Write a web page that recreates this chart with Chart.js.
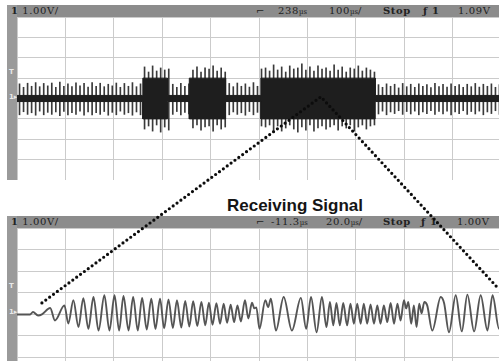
<!DOCTYPE html>
<html>
<head>
<meta charset="utf-8">
<script src="https://cdn.jsdelivr.net/npm/chart.js@4.4.0/dist/chart.umd.min.js"></script>
<style>
html,body{margin:0;padding:0;background:#fff;width:499px;height:361px;overflow:hidden;position:relative}
.bar{position:absolute;left:7px;width:492px;height:12px;background:#8c8c8c}
.side{position:absolute;left:7px;width:10px;background:#9a9a9a}
.hd{position:absolute;font:10px "DejaVu Serif",serif;letter-spacing:0.6px;color:#222;white-space:nowrap;line-height:12px}
.hd b{font-weight:bold}
.hd small{font-size:7px;letter-spacing:0}
.mk{position:absolute;left:9px;font:bold 7px "DejaVu Sans",sans-serif;color:#e8e8e8}
canvas{position:absolute}
#title{position:absolute;left:200px;width:190px;top:196px;text-align:center;font:bold 17px "Liberation Sans",Arial,sans-serif;color:#151515}
</style>
</head>
<body>
<!-- top scope frame -->
<div class="bar" style="top:5px"></div>
<div class="side" style="top:5px;height:175px"></div>
<div class="hd" style="top:5px;left:11px"><b>1</b> 1.00V/</div>
<div class="hd" style="top:5px;left:256px">⌐</div>
<div class="hd" style="top:5px;left:278px">238<small>µs</small></div>
<div class="hd" style="top:5px;left:329px">100<small>µs</small>/</div>
<div class="hd" style="top:5px;left:383px"><b>Stop</b></div>
<div class="hd" style="top:5px;left:423px"><b>ƒ 1</b></div>
<div class="hd" style="top:5px;left:458px">1.09V</div>
<div class="mk" style="top:68px">T</div>
<div class="mk" style="top:93px">1▸</div>
<canvas id="topChart" width="484" height="163" style="left:17px;top:17px"></canvas>

<div id="title">Receiving Signal</div>

<!-- bottom scope frame -->
<div class="bar" style="top:216px"></div>
<div class="side" style="top:216px;height:145px"></div>
<div class="hd" style="top:216px;left:11px"><b>1</b> 1.00V/</div>
<div class="hd" style="top:216px;left:256px">⌐</div>
<div class="hd" style="top:216px;left:271px">-11.3<small>µs</small></div>
<div class="hd" style="top:216px;left:326px">20.0<small>µs</small>/</div>
<div class="hd" style="top:216px;left:383px"><b>Stop</b></div>
<div class="hd" style="top:216px;left:421px"><b>ƒ 1</b></div>
<div class="hd" style="top:216px;left:457px">1.00V</div>
<div class="mk" style="top:282px">T</div>
<div class="mk" style="top:308px">1▸</div>
<canvas id="rxChart" width="484" height="172" style="left:17px;top:228px"></canvas>

<canvas id="zoomChart" width="499" height="361" style="left:0;top:0;pointer-events:none"></canvas>

<script>
// top trace (100us/div, 1V/div): burst windows in us, amplitudes in V
const burstStart = [260, 356, 504];
const burstEnd   = [311, 431, 740];
const burstAmp   = [1.0, 1.0, 1.0];
const coreAmp    = 0.15;

// spike tips per sample slot (120 slots over the 1000us screen)
const spikeHi = [
  0.72,0.55,0.75,0.6,0.78,0.58,0.74,0.62,0.76,0.55,0.8,0.6,0.72,0.58,0.77,0.62,0.74,0.56,0.78,0.6,0.75,0.58,0.7,0.62,0.76,0.55,0.74,0.6,0.78,0.58,0.72,
  1.55,1.3,1.6,1.35,1.5,1.4,1.45,
  0.7,0.55,0.75,0.6,0.72,
  1.4,1.55,1.3,1.5,1.45,1.6,1.35,1.5,1.3,
  0.74,0.58,0.76,0.6,0.72,0.56,0.78,0.6,
  1.45,1.5,1.35,1.65,1.4,1.55,1.3,1.6,1.45,1.5,1.7,1.4,1.55,1.35,1.6,1.45,1.5,1.35,1.65,1.4,1.55,1.3,1.5,1.45,1.6,1.35,1.5,1.4,1.3,
  0.68,0.55,0.72,0.6,0.7,0.52,0.74,0.58,0.7,0.55,0.72,0.6,0.68,0.54,0.74,0.58,0.7,0.56,0.72,0.6,0.68,0.55,0.7,0.58,0.74,0.56,0.7,0.6,0.72,0.55,0.68
];
const spikeLo = [
  -0.8,-0.65,-0.78,-0.7,-0.82,-0.62,-0.8,-0.68,-0.78,-0.66,-0.84,-0.64,-0.8,-0.7,-0.78,-0.62,-0.82,-0.66,-0.8,-0.7,-0.78,-0.64,-0.82,-0.68,-0.8,-0.62,-0.78,-0.7,-0.82,-0.66,-0.8,
  -1.5,-1.35,-1.6,-1.3,-1.65,-1.4,-1.55,
  -0.78,-0.64,-0.8,-0.68,-0.76,
  -1.45,-1.3,-1.55,-1.4,-1.35,-1.6,-1.3,-1.5,-1.4,
  -0.8,-0.66,-0.78,-0.7,-0.82,-0.64,-0.8,-0.68,
  -1.35,-1.4,-1.3,-1.55,-1.35,-1.6,-1.45,-1.3,-1.5,-1.65,-1.4,-1.55,-1.3,-1.6,-1.45,-1.35,-1.5,-1.4,-1.3,-1.55,-1.35,-1.45,-1.3,-1.6,-1.4,-1.3,-1.5,-1.35,-1.3,
  -0.76,-0.62,-0.8,-0.66,-0.74,-0.6,-0.78,-0.64,-0.76,-0.62,-0.8,-0.66,-0.74,-0.6,-0.78,-0.64,-0.76,-0.62,-0.8,-0.66,-0.74,-0.6,-0.78,-0.64,-0.76,-0.62,-0.8,-0.66,-0.74,-0.6,-0.78
];

// bottom trace (20us/div, 1V/div): turning points of the received waveform
const rxTime = [
  0,5.4,6.6,8.7,10.3,13.7,15.7,19.6,21.2,23.3,25.4,27.4,29.5,31.6,33.7,36.1,38.2,40.3,42.2,44.0,
  46.1,48.0,49.9,51.7,53.6,55.5,57.2,59.1,60.8,62.6,64.4,66.1,67.9,69.5,71.2,72.8,74.5,76.2,77.8,79.3,
  80.8,82.4,83.9,85.4,86.8,88.3,89.7,91.1,92.5,94.2,95.6,97.1,98.1,98.9,100.2,102.6,103.8,104.9,107.0,110.2,
  113.6,117.3,119.5,121.5,123.8,126.0,127.9,129.3,130.7,132.0,133.4,134.8,136.4,137.8,139.2,140.6,142.0,143.3,144.7,146.1,
  147.5,148.9,150.2,151.6,153.0,154.4,155.8,157.2,158.5,159.9,160.8,161.7,162.9,164.0,165.1,166.2,167.2,168.3,169.5,171.6,
  175.1,176.5,178.5,181.3,183.8,186.1,188.9,191.6,194.4,196.5,199.2,200.0
];
const rxVolt = [
  -0.02,-0.02,0.09,-0.07,-0.02,0.28,-0.30,0.40,-0.44,0.64,-0.61,0.74,-0.69,0.79,-0.77,0.87,-0.77,0.87,-0.77,0.84,
  -0.77,0.79,-0.77,0.75,-0.72,0.71,-0.69,0.71,-0.67,0.68,-0.65,0.64,-0.63,0.61,-0.58,0.59,-0.56,0.56,-0.53,0.53,
  -0.50,0.50,-0.45,0.48,-0.41,0.43,-0.38,0.40,-0.35,0.64,-0.21,0.52,0.26,0.31,-0.69,0.64,0.32,0.71,-0.77,0.79,
  -0.77,0.75,-0.69,0.79,-0.85,0.79,-0.61,0.56,-0.53,0.51,-0.53,0.51,-0.53,0.48,-0.45,0.48,-0.45,0.48,-0.45,0.45,
  -0.45,0.40,-0.45,0.40,-0.38,0.51,-0.45,0.48,-0.30,0.64,0.26,0.56,-0.45,0.40,-0.61,0.48,0.03,0.56,0.40,-0.77,
  0.79,0.50,-0.85,0.87,-0.81,0.90,-0.81,0.87,-0.77,0.87,-0.69,-0.39
];

// magnifier lines, in percent of the page
const zoomX = [8.4, 64.3, 100];
const zoomY = [83.9, 26.8, 80.1];

const gridCol = '#cbcbcb';
const traceCol = '#1e1e1e';

function scopeScales(tMax, tStep){
  return {
    x:{type:'linear', min:0, max:tMax, offset:false,
       ticks:{display:false, stepSize:tStep}, grid:{color:gridCol, drawTicks:false, offset:false}, border:{display:false}},
    y:{type:'linear', min:-4, max:4,
       ticks:{display:false, stepSize:1}, grid:{color:gridCol, drawTicks:false}, border:{display:false}}
  };
}

// envelope of the top trace: thin core with the three bursts
const upper = [{x:0, y:coreAmp}], lower = [{x:0, y:-coreAmp}];
burstStart.forEach((s,i)=>{
  const e = burstEnd[i], a = burstAmp[i];
  upper.push({x:s,y:coreAmp},{x:s,y:a},{x:e,y:a},{x:e,y:coreAmp});
  lower.push({x:s,y:-coreAmp},{x:s,y:-a},{x:e,y:-a},{x:e,y:-coreAmp});
});
upper.push({x:1000, y:coreAmp});
lower.push({x:1000, y:-coreAmp});

const topScales = scopeScales(1000, 100);
topScales.xs = {type:'category', display:false, offset:true};

new Chart(document.getElementById('topChart'), {
  type:'bar',
  data:{
    labels: spikeHi.map((_,i)=>i),
    datasets:[
      {type:'line', data:upper, xAxisID:'x', borderColor:traceCol, borderWidth:1, pointRadius:0, tension:0, fill:false},
      {type:'line', data:lower, xAxisID:'x', borderColor:traceCol, borderWidth:1, pointRadius:0, tension:0, fill:'-1', backgroundColor:traceCol},
      {type:'bar', data:spikeHi.map((h,i)=>[spikeLo[i], h]), xAxisID:'xs', barThickness:1, backgroundColor:'#3a3a3a', borderWidth:0}
    ]
  },
  options:{
    responsive:false, animation:false, devicePixelRatio:1, layout:{padding:0},
    plugins:{legend:{display:false}, tooltip:{enabled:false}},
    scales: topScales
  }
});

new Chart(document.getElementById('rxChart'), {
  type:'line',
  data:{ datasets:[{
    data: rxTime.map((t,i)=>({x:t, y:rxVolt[i]})),
    borderColor:'#555', borderWidth:1.9, pointRadius:0, cubicInterpolationMode:'monotone', fill:false
  }]},
  options:{
    responsive:false, animation:false, devicePixelRatio:1, layout:{padding:0},
    plugins:{legend:{display:false}, tooltip:{enabled:false}},
    scales: scopeScales(200, 20)
  }
});

new Chart(document.getElementById('zoomChart'), {
  type:'scatter',
  data:{ datasets:[{
    data: zoomX.map((x,i)=>({x, y:zoomY[i]})),
    showLine:true, borderColor:'#0c0c0c', borderWidth:3.2, borderDash:[0,4.8], borderCapStyle:'round',
    pointRadius:0, clip:false
  }]},
  options:{
    responsive:false, animation:false, devicePixelRatio:1, layout:{padding:0},
    plugins:{legend:{display:false}, tooltip:{enabled:false}},
    scales:{
      x:{type:'linear', min:0, max:100, display:false},
      y:{type:'linear', min:0, max:100, reverse:true, display:false}
    }
  }
});
</script>
</body>
</html>
